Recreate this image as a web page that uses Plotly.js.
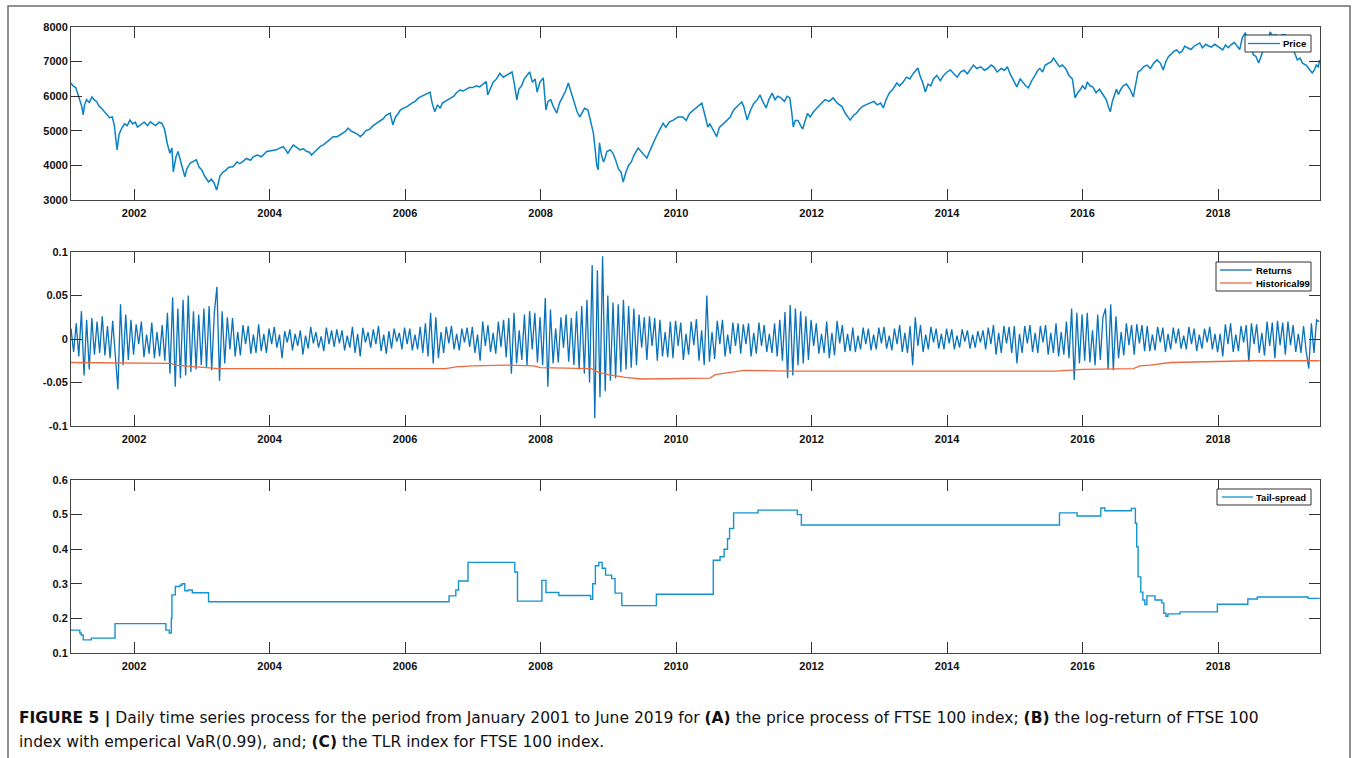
<!DOCTYPE html>
<html>
<head>
<meta charset="utf-8">
<script src="https://cdn.plot.ly/plotly-3.0.1.min.js"></script>
<style>html,body{margin:0;padding:0;background:#fff;}#chart{width:1356px;height:758px;}</style>
</head>
<body>
<div id="chart"></div>
<script>
// ---------- DATA (decimal years) ----------
const yearTickVals = [2002, 2004, 2006, 2008, 2010, 2012, 2014, 2016, 2018];
const yearTickText = ['2002', '2004', '2006', '2008', '2010', '2012', '2014', '2016', '2018'];

const priceTickVals = [3000, 4000, 5000, 6000, 7000, 8000];
const priceTickText = ['3000', '4000', '5000', '6000', '7000', '8000'];
const retTickVals = [-0.1, -0.05, 0, 0.05, 0.1];
const retTickText = ['-0.1', '-0.05', '0', '0.05', '0.1'];
const tailTickVals = [0.1, 0.2, 0.3, 0.4, 0.5, 0.6];
const tailTickText = ['0.1', '0.2', '0.3', '0.4', '0.5', '0.6'];

// Panel A: FTSE 100 price
const priceX = [2001.07,2001.1,2001.14,2001.17,2001.2,2001.23,2001.25,2001.27,2001.3,2001.34,2001.38,2001.41,2001.45,2001.48,2001.52,2001.56,2001.6,2001.64,2001.68,2001.71,2001.75,2001.78,2001.82,2001.86,2001.9,2001.94,2001.98,
  2002.02,2002.05,2002.1,2002.15,2002.2,2002.24,2002.28,2002.32,2002.37,2002.41,2002.45,2002.49,2002.53,2002.56,2002.58,2002.6,2002.62,2002.65,2002.68,2002.71,2002.75,2002.78,2002.83,2002.87,2002.92,2002.96,
  2003.0,2003.04,2003.07,2003.1,2003.14,2003.18,2003.22,2003.25,2003.27,2003.31,2003.35,2003.4,2003.46,2003.52,2003.56,2003.6,2003.66,2003.72,2003.76,2003.82,2003.88,2003.96,
  2004.03,2004.1,2004.15,2004.2,2004.24,2004.27,2004.31,2004.35,2004.4,2004.45,2004.5,2004.55,2004.59,2004.62,2004.66,2004.7,2004.75,2004.8,2004.86,2004.9,2004.94,
  2005.0,2005.05,2005.08,2005.12,2005.16,2005.2,2005.25,2005.3,2005.34,2005.38,2005.42,2005.48,2005.53,2005.58,2005.63,2005.68,2005.72,2005.78,2005.82,2005.86,2005.9,2005.93,2005.97,
  2006.03,2006.1,2006.15,2006.2,2006.25,2006.3,2006.35,2006.37,2006.4,2006.44,2006.48,2006.52,2006.55,2006.6,2006.64,2006.68,2006.72,2006.76,2006.81,2006.86,2006.9,2006.95,
  2007.0,2007.05,2007.1,2007.15,2007.2,2007.22,2007.26,2007.3,2007.35,2007.4,2007.45,2007.5,2007.54,2007.58,2007.61,2007.65,2007.68,2007.72,2007.76,2007.8,2007.84,2007.88,2007.92,2007.95,2007.99,
  2008.04,2008.06,2008.08,2008.11,2008.15,2008.19,2008.24,2008.28,2008.33,2008.37,2008.41,2008.45,2008.5,2008.54,2008.58,2008.61,2008.65,2008.7,2008.74,2008.78,2008.81,2008.83,2008.85,2008.87,2008.9,2008.93,2008.95,2008.98,
  2009.03,2009.07,2009.11,2009.15,2009.19,2009.22,2009.26,2009.3,2009.34,2009.38,2009.44,2009.5,2009.57,2009.62,2009.66,2009.7,2009.75,2009.81,2009.85,2009.9,2009.96,
  2010.03,2010.1,2010.15,2010.2,2010.26,2010.32,2010.38,2010.42,2010.45,2010.47,2010.5,2010.55,2010.6,2010.64,2010.7,2010.75,2010.8,2010.85,2010.9,2010.97,
  2011.0,2011.05,2011.1,2011.15,2011.2,2011.24,2011.28,2011.33,2011.37,2011.42,2011.46,2011.5,2011.55,2011.6,2011.64,2011.68,2011.71,2011.73,2011.76,2011.8,2011.84,2011.87,2011.9,2011.94,2011.98,
  2012.03,2012.1,2012.15,2012.2,2012.26,2012.32,2012.38,2012.45,2012.5,2012.54,2012.57,2012.62,2012.66,2012.7,2012.75,2012.8,2012.87,2012.92,2012.97,
  2013.02,2013.06,2013.1,2013.15,2013.2,2013.26,2013.3,2013.35,2013.4,2013.45,2013.5,2013.57,2013.6,2013.64,2013.68,2013.72,2013.76,2013.8,2013.85,2013.9,2013.95,2014.0,
  2014.05,2014.1,2014.15,2014.2,2014.25,2014.3,2014.35,2014.39,2014.44,2014.5,2014.55,2014.6,2014.65,2014.69,2014.74,2014.8,2014.85,2014.89,2014.93,2014.97,
  2015.0,2015.03,2015.08,2015.12,2015.16,2015.2,2015.25,2015.3,2015.34,2015.37,2015.41,2015.45,2015.5,2015.54,2015.57,2015.61,2015.66,2015.7,2015.75,2015.8,2015.85,2015.89,2015.93,2015.97,
  2016.0,2016.04,2016.07,2016.11,2016.15,2016.2,2016.25,2016.3,2016.35,2016.38,2016.41,2016.44,2016.47,2016.5,2016.53,2016.56,2016.6,2016.65,2016.7,2016.75,2016.78,2016.82,2016.86,2016.9,2016.95,
  2017.0,2017.05,2017.1,2017.15,2017.19,2017.23,2017.27,2017.3,2017.35,2017.39,2017.43,2017.47,2017.51,2017.55,2017.6,2017.65,2017.69,2017.73,2017.77,2017.82,2017.86,2017.9,2017.95,2017.99,
  2018.03,2018.07,2018.11,2018.15,2018.2,2018.24,2018.28,2018.32,2018.36,2018.4,2018.44,2018.48,2018.52,2018.56,2018.6,2018.64,2018.67,2018.7,2018.74,2018.77,2018.8,2018.85,2018.9,2018.95,
  2019.0,2019.04,2019.08,2019.12,2019.17,2019.21,2019.25,2019.3,2019.34,2019.39,2019.42,2019.45,2019.48,2019.5];
const priceY = [6380,6300,6250,6050,5890,5700,5460,5750,5900,5820,5980,5900,5840,5720,5650,5550,5460,5380,5400,5150,4445,4900,5080,5200,5150,5310,5200,
  5250,5110,5180,5250,5150,5260,5200,5150,5250,5220,5050,4640,4350,4500,3810,4000,4250,4400,4150,3960,3670,3900,4070,4100,4160,3950,
  3870,3700,3600,3520,3600,3500,3290,3550,3700,3800,3850,3950,3960,4100,4050,4100,4200,4150,4250,4300,4250,4400,
  4420,4450,4500,4540,4450,4350,4480,4590,4520,4450,4480,4400,4380,4300,4380,4450,4550,4600,4700,4750,4830,
  4830,4900,4950,4980,5080,5000,4950,4900,4830,4900,5000,5050,5150,5220,5300,5350,5450,5510,5170,5400,5500,5600,5650,
  5700,5800,5850,5950,6000,6050,6100,6120,5800,5550,5750,5650,5800,5850,5900,5950,6000,6100,6180,6150,6200,6250,
  6250,6300,6270,6350,6420,6035,6200,6400,6500,6660,6550,6600,6650,6700,6400,5890,6200,6300,6500,6600,6700,6400,6500,6120,6400,
  6530,6000,5600,5850,5900,5700,5510,5800,6000,6150,6380,6100,5800,5550,5400,5500,5650,5600,5300,4940,4400,4000,3870,4650,4300,4100,4200,4400,
  4450,4350,4150,3900,3800,3520,3800,4000,4100,4300,4500,4350,4210,4450,4650,4800,5000,5220,5100,5250,5310,
  5400,5400,5300,5500,5600,5700,5800,5500,5300,5110,5200,5000,4830,5100,5200,5300,5400,5600,5700,5830,
  5700,5310,5600,5800,5900,6035,5850,5660,5900,6090,5900,6000,5950,5850,6000,5950,5500,5110,5300,5300,5150,5050,5250,5500,5400,
  5550,5700,5800,5900,5850,5950,5800,5700,5500,5400,5310,5450,5500,5600,5700,5750,5800,5850,5750,
  5800,5660,5900,6100,6200,6380,6300,6400,6550,6500,6650,6815,6600,6400,6120,6350,6300,6500,6600,6450,6600,6700,
  6760,6650,6550,6700,6750,6650,6800,6900,6800,6850,6750,6800,6900,6850,6700,6800,6750,6850,6650,6500,
  6400,6270,6500,6400,6300,6240,6450,6600,6750,6800,6700,6900,6950,7000,7100,7000,6850,6900,6800,6600,6500,5950,6100,6200,
  6300,6200,6410,6300,6270,6100,6200,6050,5900,5700,5550,5850,6000,6200,6050,6180,6300,6350,6200,5980,6300,6700,6750,6850,6900,
  6800,6950,7050,6950,6760,7000,7150,7200,7300,7340,7250,7300,7450,7400,7350,7450,7500,7540,7400,7500,7450,7420,7500,7450,
  7400,7340,7480,7400,7500,7550,7450,7350,7700,7820,7700,7500,7200,7150,6960,7200,7350,7400,7650,7860,7750,7780,7700,7780,
  7770,7650,7500,7300,7050,7100,6950,6900,6800,6670,6750,6900,6850,7050];

// Panel B: log-returns, one reading every 1/26 year from returnsStart
const returnsStart = 2001.07;
const returnsStep = 1 / 26;
const returns2001to2004 = [
  0.012,-0.015,0.018,-0.020,0.032,-0.042,0.022,-0.035,0.024,-0.018,0.020,-0.016,0.026,-0.019,0.015,-0.022,0.021,-0.025,-0.058,0.040,-0.030,0.028,-0.024,0.022,
  -0.018,0.017,-0.006,0.020,-0.021,0.005,-0.017,0.019,-0.022,0.008,-0.020,0.016,-0.025,0.030,-0.040,0.048,-0.055,0.035,-0.045,0.045,-0.042,0.050,-0.038,0.032,-0.035,0.028,
  -0.030,0.035,-0.033,0.038,-0.036,0.030,0.060,-0.048,0.032,-0.028,0.025,-0.012,0.024,-0.020,0.008,-0.019,0.016,-0.006,0.015,-0.017,0.005,-0.016,0.017,-0.014,0.006,-0.016,
  0.012,-0.006,0.014,-0.010,0.005,-0.022,0.009,-0.004,0.011,-0.013,0.006,-0.008,0.010,-0.018,0.004,-0.011,0.014,-0.005,0.008,-0.010,0.003,-0.014,0.013,-0.006,0.010,-0.009];
const returns2005to2008 = [
  0.011,-0.005,0.010,-0.013,0.004,-0.010,0.014,-0.016,0.006,-0.020,0.013,-0.004,0.008,-0.010,0.011,-0.006,0.015,-0.014,0.005,-0.017,0.009,-0.011,0.012,-0.003,0.007,-0.012,
  0.013,-0.006,0.012,-0.013,0.005,-0.012,0.014,-0.016,0.018,-0.020,0.030,-0.028,0.025,-0.022,0.008,-0.016,0.014,-0.005,0.015,-0.012,0.006,-0.013,0.012,-0.004,0.013,-0.009,
  0.014,-0.016,0.005,-0.025,0.020,-0.008,0.016,-0.015,0.007,-0.017,0.020,-0.009,0.022,-0.021,0.024,-0.040,0.030,-0.028,0.010,-0.024,0.028,-0.030,0.032,-0.012,0.030,-0.027,
  0.025,-0.030,0.047,-0.055,0.034,-0.028,0.012,-0.027,0.025,-0.010,0.028,-0.026,0.024,-0.030,0.032,-0.035,0.038,-0.040,0.045,-0.050,0.085,-0.091,0.079,-0.067,0.095,-0.060];
const returns2009to2013 = [
  0.050,-0.048,0.042,-0.045,0.040,-0.038,0.045,-0.035,0.038,-0.033,0.035,-0.030,0.028,-0.010,0.025,-0.024,0.026,-0.008,0.024,-0.025,0.022,-0.020,0.008,-0.021,0.020,-0.022,
  0.021,-0.008,0.019,-0.024,0.006,-0.018,0.020,-0.007,0.023,-0.025,0.010,-0.030,0.050,-0.026,0.008,-0.023,0.021,-0.006,0.022,-0.020,0.005,-0.017,0.019,-0.008,0.018,-0.017,
  0.017,-0.006,0.018,-0.020,0.007,-0.017,0.019,-0.008,0.016,-0.015,0.006,-0.016,0.018,-0.020,0.022,-0.025,0.031,-0.045,0.039,-0.042,0.035,-0.030,0.032,-0.028,0.026,-0.024,
  0.022,-0.008,0.018,-0.017,0.006,-0.016,0.020,-0.022,0.007,-0.019,0.021,-0.005,0.016,-0.015,0.006,-0.014,0.013,-0.015,0.004,-0.012,0.013,-0.006,0.012,-0.013,0.005,-0.012,
  0.013,-0.005,0.014,-0.011,0.004,-0.013,0.012,-0.006,0.016,-0.015,0.007,-0.016,0.015,-0.030,0.025,-0.008,0.016,-0.015,0.005,-0.012,0.014,-0.004,0.012,-0.011,0.006,-0.012];
const returns2014to2019 = [
  0.012,-0.005,0.011,-0.012,0.004,-0.010,0.011,-0.003,0.010,-0.011,0.005,-0.010,0.009,-0.004,0.010,-0.012,0.013,-0.006,0.016,-0.018,0.007,-0.016,0.015,-0.005,0.014,-0.016,
  0.015,-0.028,0.006,-0.016,0.015,-0.005,0.016,-0.015,0.007,-0.016,0.015,-0.004,0.016,-0.018,0.007,-0.016,0.018,-0.020,0.008,-0.018,0.020,-0.022,0.035,-0.047,0.030,-0.028,
  0.028,-0.025,0.030,-0.027,0.010,-0.030,0.028,-0.024,0.025,0.035,-0.035,0.040,-0.036,0.026,-0.022,0.008,-0.019,0.018,-0.007,0.016,-0.018,0.017,-0.005,0.016,-0.014,0.015,
  -0.014,0.005,-0.013,0.014,-0.004,0.013,-0.015,0.006,-0.012,0.013,-0.005,0.012,-0.011,0.004,-0.012,0.014,-0.006,0.012,-0.014,0.005,-0.011,0.012,-0.004,0.014,-0.012,0.006,
  -0.015,0.006,-0.020,0.017,-0.006,0.018,-0.015,0.005,-0.014,0.015,-0.004,0.016,-0.026,0.018,-0.006,0.017,-0.016,0.007,-0.019,0.020,-0.008,0.019,-0.022,0.021,-0.007,0.019,
  -0.018,0.020,-0.007,0.016,-0.015,0.006,-0.016,0.015,-0.014,-0.034,0.018,-0.016,0.022,0.020];

// Historical VaR(0.99)
const histX = [2001.07,2002.55,2002.6,2002.75,2002.85,2003.1,2003.25,2006.6,2006.75,2007.0,2007.5,2007.9,2008.0,2008.75,2008.85,2009.0,2009.25,2009.5,2010.5,2010.58,2010.8,2011.0,2011.7,2015.6,2016.0,2016.75,2016.85,2017.0,2017.3,2018.0,2018.5,2019.5];
const histY = [-0.027,-0.028,-0.030,-0.031,-0.032,-0.033,-0.034,-0.034,-0.032,-0.031,-0.030,-0.031,-0.033,-0.034,-0.038,-0.041,-0.044,-0.046,-0.045,-0.041,-0.038,-0.036,-0.037,-0.037,-0.035,-0.034,-0.031,-0.030,-0.027,-0.026,-0.025,-0.025];

// Panel C: tail-spread (TLR index), step changes
const tailX = [2001.07,2001.2,2001.22,2001.25,2001.37,2001.72,2002.47,2002.52,2002.55,2002.56,2002.61,2002.68,2002.71,2002.75,2002.8,2002.86,2003.1,
  2006.65,2006.75,2006.79,2006.93,2007.62,2007.66,2008.02,2008.08,2008.27,2008.74,2008.77,2008.81,2008.86,2008.91,2008.96,2009.05,2009.1,2009.2,2009.71,
  2010.55,2010.65,2010.71,2010.76,2010.79,2010.85,2011.21,2011.79,2011.85,2015.66,2015.92,2016.27,2016.33,2016.72,2016.78,2016.8,2016.82,2016.86,2016.89,2016.92,2016.95,
  2017.07,2017.17,2017.2,2017.23,2017.26,2017.44,2017.99,2018.44,2018.58,2019.33,2019.5];
const tailY = [0.166,0.158,0.152,0.138,0.143,0.185,0.166,0.158,0.200,0.268,0.292,0.296,0.300,0.280,0.282,0.274,0.248,
  0.265,0.282,0.308,0.362,0.334,0.250,0.310,0.275,0.266,0.255,0.300,0.352,0.362,0.345,0.325,0.315,0.273,0.237,0.270,
  0.368,0.378,0.400,0.430,0.460,0.505,0.513,0.500,0.470,0.505,0.496,0.519,0.511,0.518,0.475,0.407,0.320,0.276,0.253,0.240,0.265,
  0.253,0.245,0.215,0.206,0.213,0.219,0.241,0.256,0.262,0.258,0.258];

const captionLine1 = '<b>FIGURE 5 |</b> Daily time series process for the period from January 2001 to June 2019 for <b>(A)</b> the price process of FTSE 100 index; <b>(B)</b> the log-return of FTSE 100';
const captionLine2 = 'index with emperical VaR(0.99), and; <b>(C)</b> the TLR index for FTSE 100 index.';

// ---------- BUILD ----------
const returnsY = returns2001to2004.concat(returns2005to2008, returns2009to2013, returns2014to2019);
const returnsX = returnsY.map((_, i) => returnsStart + i * returnsStep);

const W = 1356, H = 758;
const px = v => v / W;
const py = v => 1 - v / H;
const FONT = 'Liberation Sans, Arial, sans-serif';
const CAPFONT = 'DejaVu Sans, Liberation Sans, sans-serif';
const xDom = [px(71), px(1320)];

const COL_PRICE = '#0a82c4', COL_RET = '#0a72b8', COL_HIST = '#ec6a3e', COL_TAIL = '#1594cf';

function xAx(anchor) {
  return {
    domain: xDom, anchor: anchor, range: [2001.07, 2019.505],
    tickvals: yearTickVals, ticktext: yearTickText,
    ticks: 'inside', ticklen: 11, tickwidth: 1, tickcolor: '#333',
    showline: true, linecolor: '#444', linewidth: 1, mirror: 'ticks',
    showgrid: false, zeroline: false, ticklabelstandoff: 3,
    tickfont: {family: FONT, size: 11, color: '#111', weight: 'bold'},
    fixedrange: true
  };
}
function yAx(anchor, dom, range, tv, tt) {
  return {
    domain: dom, anchor: anchor, range: range,
    tickvals: tv, ticktext: tt,
    ticks: 'inside', ticklen: 11, tickwidth: 1, tickcolor: '#333',
    showline: true, linecolor: '#444', linewidth: 1, mirror: 'ticks',
    showgrid: false, zeroline: false,
    tickfont: {family: FONT, size: 11, color: '#111', weight: 'bold'},
    fixedrange: true
  };
}

// MATLAB-style legends (boxes, sample lines, labels)
const shapes = [
  {type: 'rect', xref: 'paper', yref: 'paper', x0: px(8), x1: px(1350), y0: -0.05, y1: py(6),
   line: {color: '#6e6e6e', width: 1.5}, fillcolor: 'rgba(0,0,0,0)', layer: 'below'}
];
const annotations = [];
function legendBox(x0, y0, x1, y1) {
  shapes.push({type: 'rect', xref: 'paper', yref: 'paper', x0: px(x0), x1: px(x1), y0: py(y1), y1: py(y0),
    line: {color: '#333', width: 1}, fillcolor: '#fff', layer: 'above'});
}
function legendEntry(lx0, lx1, y, color, label, tx, anchor) {
  shapes.push({type: 'line', xref: 'paper', yref: 'paper', x0: px(lx0), x1: px(lx1), y0: py(y), y1: py(y),
    line: {color: color, width: 1.3}, layer: 'above'});
  annotations.push({xref: 'paper', yref: 'paper', x: px(tx), y: py(y), xanchor: anchor, yanchor: 'middle',
    showarrow: false, text: label, font: {family: FONT, size: 9.5, color: '#000', weight: 'bold'}});
}
legendBox(1245, 35, 1311, 52);
legendEntry(1248, 1280, 43.5, COL_PRICE, 'Price', 1308, 'right');
legendBox(1216, 262, 1311, 291);
legendEntry(1220, 1252, 270, COL_RET, 'Returns', 1254, 'left');
legendEntry(1220, 1252, 283, COL_HIST, 'Historical99', 1254, 'left');
legendBox(1217, 489, 1311, 505);
legendEntry(1222, 1253, 497, COL_TAIL, 'Tail-spread', 1308, 'right');

annotations.push(
  {xref: 'paper', yref: 'paper', x: px(17), y: py(718), xanchor: 'left', yanchor: 'middle',
   showarrow: false, align: 'left', text: captionLine1, font: {family: CAPFONT, size: 15.5, color: '#111'}},
  {xref: 'paper', yref: 'paper', x: px(17), y: py(742), xanchor: 'left', yanchor: 'middle',
   showarrow: false, align: 'left', text: captionLine2, font: {family: CAPFONT, size: 15.5, color: '#111'}}
);

const traces = [
  {x: priceX, y: priceY, xaxis: 'x', yaxis: 'y', type: 'scatter', mode: 'lines', name: 'Price',
   line: {color: COL_PRICE, width: 1.5}},
  {x: returnsX, y: returnsY, xaxis: 'x2', yaxis: 'y2', type: 'scatter', mode: 'lines', name: 'Returns',
   line: {color: COL_RET, width: 1.3}},
  {x: histX, y: histY, xaxis: 'x2', yaxis: 'y2', type: 'scatter', mode: 'lines', name: 'Historical99',
   line: {color: COL_HIST, width: 1.3}},
  {x: tailX, y: tailY, xaxis: 'x3', yaxis: 'y3', type: 'scatter', mode: 'lines', name: 'Tail-spread',
   line: {color: COL_TAIL, width: 1.4, shape: 'hv'}}
];

const layout = {
  width: W, height: H,
  margin: {l: 0, r: 0, t: 0, b: 0},
  paper_bgcolor: '#fff', plot_bgcolor: '#fff',
  showlegend: false,
  xaxis: xAx('y'), xaxis2: xAx('y2'), xaxis3: xAx('y3'),
  yaxis: yAx('x', [py(200), py(27)], [3000, 8000], priceTickVals, priceTickText),
  yaxis2: yAx('x2', [py(426), py(252)], [-0.1, 0.1], retTickVals, retTickText),
  yaxis3: yAx('x3', [py(653), py(480)], [0.1, 0.6], tailTickVals, tailTickText),
  shapes: shapes,
  annotations: annotations
};

Plotly.newPlot('chart', traces, layout, {displayModeBar: false, staticPlot: true});
</script>
</body>
</html>
